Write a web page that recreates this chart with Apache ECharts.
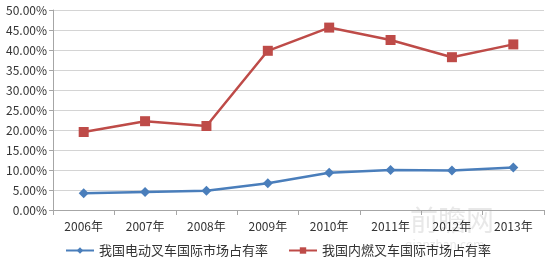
<!DOCTYPE html>
<html><head><meta charset="utf-8">
<script src="https://cdn.jsdelivr.net/npm/echarts@6/dist/echarts.min.js"></script>
<style>html,body{margin:0;padding:0;background:#fff}#c{width:550px;height:263px}</style>
</head><body><div id="c"></div>
<script>
const categories = ['2006年','2007年','2008年','2009年','2010年','2011年','2012年','2013年'];
const electricShare = [4.2, 4.5, 4.8, 6.7, 9.3, 10.0, 9.9, 10.6];
const combustionShare = [19.5, 22.2, 21.0, 39.8, 45.6, 42.5, 38.2, 41.4];
const seriesNames = ['我国电动叉车国际市场占有率','我国内燃叉车国际市场占有率'];
const font = '"Noto Sans CJK SC", sans-serif';
const chart = echarts.init(document.getElementById('c'), null, {renderer:'canvas'});
chart.setOption({
  animation:false,
  grid:{left:53, right:6, top:10, bottom:53},
  legend:{
    bottom:1, left:60, itemGap:20, itemWidth:28, itemHeight:8,
    textStyle:{fontFamily:font, fontSize:13, color:'#333'},
    data:seriesNames
  },
  xAxis:{
    type:'category', data:categories, boundaryGap:true,
    axisLine:{lineStyle:{color:'#a6a6a6'}},
    axisTick:{show:true, length:5, lineStyle:{color:'#a6a6a6'}},
    axisLabel:{fontFamily:font, fontSize:12, color:'#333', margin:10}
  },
  yAxis:{
    type:'value', min:0, max:50, interval:5,
    axisLine:{show:true, lineStyle:{color:'#a6a6a6'}},
    axisTick:{show:true, length:4, lineStyle:{color:'#a6a6a6'}},
    splitLine:{lineStyle:{color:'#d4d4d4', width:1}},
    axisLabel:{fontFamily:font, fontSize:12, color:'#333', margin:6, formatter:v=>v.toFixed(2)+'%'}
  },
  graphic:[
    {type:'text', left:410, top:206, style:{text:'前瞻网', fontSize:28, fill:'rgba(150,150,150,0.22)', fontFamily:font}},
    {type:'text', left:405, top:238, style:{text:'qianzhan.com', fontSize:12, fill:'rgba(150,150,150,0.22)', fontFamily:font}}
  ],
  series:[
    {name:seriesNames[0], type:'line', data:electricShare, symbol:'diamond', symbolSize:10,
     itemStyle:{color:'#4a7ebb'}, lineStyle:{width:2.5, color:'#4a7ebb'}},
    {name:seriesNames[1], type:'line', data:combustionShare, symbol:'rect', symbolSize:10,
     itemStyle:{color:'#be4b48'}, lineStyle:{width:2.5, color:'#be4b48'}}
  ]
});
</script></body></html>
